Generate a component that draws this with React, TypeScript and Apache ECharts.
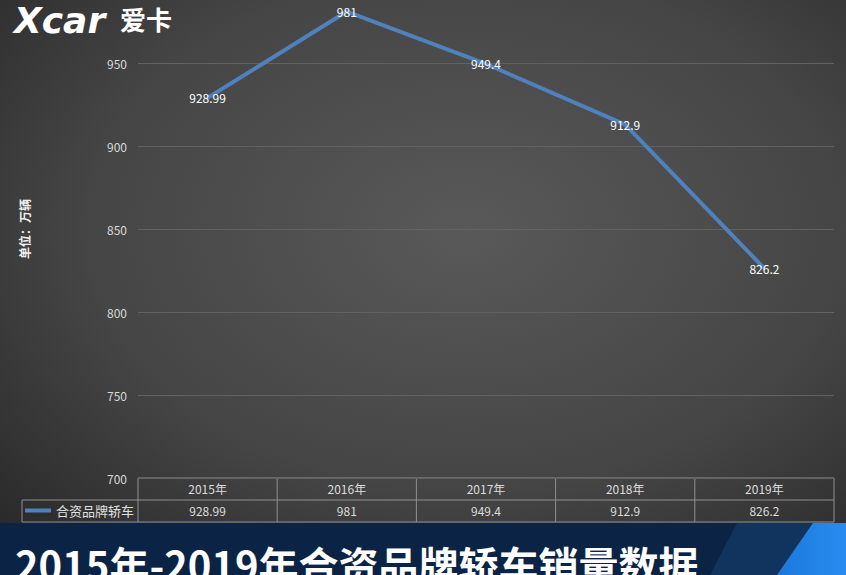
import React, { useEffect, useRef } from "react";
import * as echarts from "echarts";

const years = ["2015年", "2016年", "2017年", "2018年", "2019年"];
const sales = [928.99, 981, 949.4, 912.9, 826.2];
const seriesName = "合资品牌轿车";
const unitLabel = "单位：万辆";
const titleText = "2015年-2019年合资品牌轿车销量数据";

const W = 846;
const H = 575;
const GL = 138;
const GR = 12;
const GBOT = 97;
const FONT = "'Noto Sans CJK SC', 'Noto Sans', sans-serif";

export default function App() {
  const ref = useRef<HTMLDivElement>(null);
  useEffect(() => {
    document.body.style.margin = "0";
    const chart = echarts.init(ref.current!, null, { renderer: "svg" });
    const tableTop = H - GBOT;
    const rowH = 22;
    const plotW = W - GL - GR;
    const n = years.length;
    const colW = plotW / n;
    const border = "#8f8f8f";
    const tableLines: any[] = [];
    tableLines.push({ type: "line", shape: { x1: GL, y1: tableTop, x2: W - GR, y2: tableTop }, style: { stroke: border, lineWidth: 1 } });
    tableLines.push({ type: "line", shape: { x1: 22, y1: tableTop + rowH, x2: W - GR, y2: tableTop + rowH }, style: { stroke: border, lineWidth: 1 } });
    tableLines.push({ type: "line", shape: { x1: 22, y1: tableTop + rowH * 2, x2: W - GR, y2: tableTop + rowH * 2 }, style: { stroke: border, lineWidth: 1 } });
    tableLines.push({ type: "line", shape: { x1: 22, y1: tableTop + rowH, x2: 22, y2: tableTop + rowH * 2 }, style: { stroke: border, lineWidth: 1 } });
    for (let i = 0; i <= n; i++) {
      const x = GL + colW * i;
      tableLines.push({ type: "line", shape: { x1: x, y1: tableTop, x2: x, y2: tableTop + rowH * 2 }, style: { stroke: border, lineWidth: 1 } });
    }
    const barTop = 523;
    chart.setOption({
      animation: false,
      backgroundColor: {
        type: "radial",
        x: 0.55,
        y: 0.4,
        r: 0.75,
        colorStops: [
          { offset: 0, color: "#595959" },
          { offset: 0.6, color: "#454545" },
          { offset: 1, color: "#2a2a2a" },
        ],
      },
      grid: { left: GL, right: GR, top: -20, bottom: GBOT, outerBoundsMode: "none", containLabel: false },
      legend: {
        left: 25,
        top: tableTop + rowH + 4,
        padding: 0,
        icon: "rect",
        itemWidth: 26,
        itemHeight: 4,
        itemGap: 2,
        textStyle: { color: "#e0e0e0", fontSize: 13, fontFamily: FONT },
        data: [seriesName],
      },
      xAxis: [
        {
          type: "category",
          data: years,
          axisLine: { show: false },
          axisTick: { show: false },
          axisLabel: { color: "#dcdcdc", fontSize: 12, fontFamily: FONT, margin: 4 },
        },
        {
          type: "category",
          data: sales.map((v) => String(v)),
          position: "bottom",
          offset: rowH,
          axisLine: { show: false },
          axisTick: { show: false },
          axisLabel: { color: "#dcdcdc", fontSize: 12, fontFamily: FONT, margin: 4 },
        },
      ],
      yAxis: {
        type: "value",
        min: 700,
        max: 1000,
        interval: 50,
        name: unitLabel,
        nameLocation: "middle",
        nameRotate: 90,
        nameGap: 108,
        nameTextStyle: { color: "#f0f0f0", fontSize: 12, fontWeight: "bold", fontFamily: FONT },
        axisLine: { show: false },
        axisTick: { show: false },
        axisLabel: {
          color: "#d9d9d9",
          fontSize: 12,
          fontFamily: FONT,
          margin: 11,
          showMaxLabel: false,
        },
        splitLine: { lineStyle: { color: "#626262", width: 1 } },
      },
      series: [
        {
          name: seriesName,
          type: "line",
          data: sales,
          xAxisIndex: 0,
          symbol: "circle",
          symbolSize: 2,
          itemStyle: { color: "#4f81bd" },
          lineStyle: { color: "#4f81bd", width: 4 },
          label: {
            show: true,
            position: "inside",
            color: "#ffffff",
            fontSize: 12,
            fontFamily: FONT,
          },
        },
      ],
      graphic: [
        ...tableLines,
        {
          type: "rect",
          shape: { x: 0, y: barTop, width: W, height: H - barTop },
          style: { fill: "#0b2345" },
        },
        {
          type: "polygon",
          shape: { points: [[737, barTop], [W, barTop], [W, H], [710, H]] },
          style: { fill: "#11345f" },
        },
        {
          type: "polygon",
          shape: { points: [[813, barTop], [W, barTop], [W, H], [777, H]] },
          style: {
            fill: {
              type: "linear", x: 0, y: 0, x2: 1, y2: 0,
              colorStops: [{ offset: 0, color: "#1a78dc" }, { offset: 1, color: "#2a8cf0" }],
            },
          },
        },
        {
          type: "text",
          left: 15,
          top: 544,
          style: { text: titleText, fill: "#ffffff", font: `bold 40px ${FONT}` },
        },
        {
          type: "text",
          left: 14,
          top: 2,
          style: { text: "Xcar", fill: "#ffffff", font: `italic bold 36px 'DejaVu Sans', sans-serif` },
        },
        {
          type: "text",
          left: 120,
          top: 5,
          style: { text: "爱卡", fill: "#ffffff", font: `bold 26px ${FONT}` },
        },
      ],
    });
    return () => chart.dispose();
  }, []);
  return <div ref={ref} style={{ width: W, height: H }} />;
}
